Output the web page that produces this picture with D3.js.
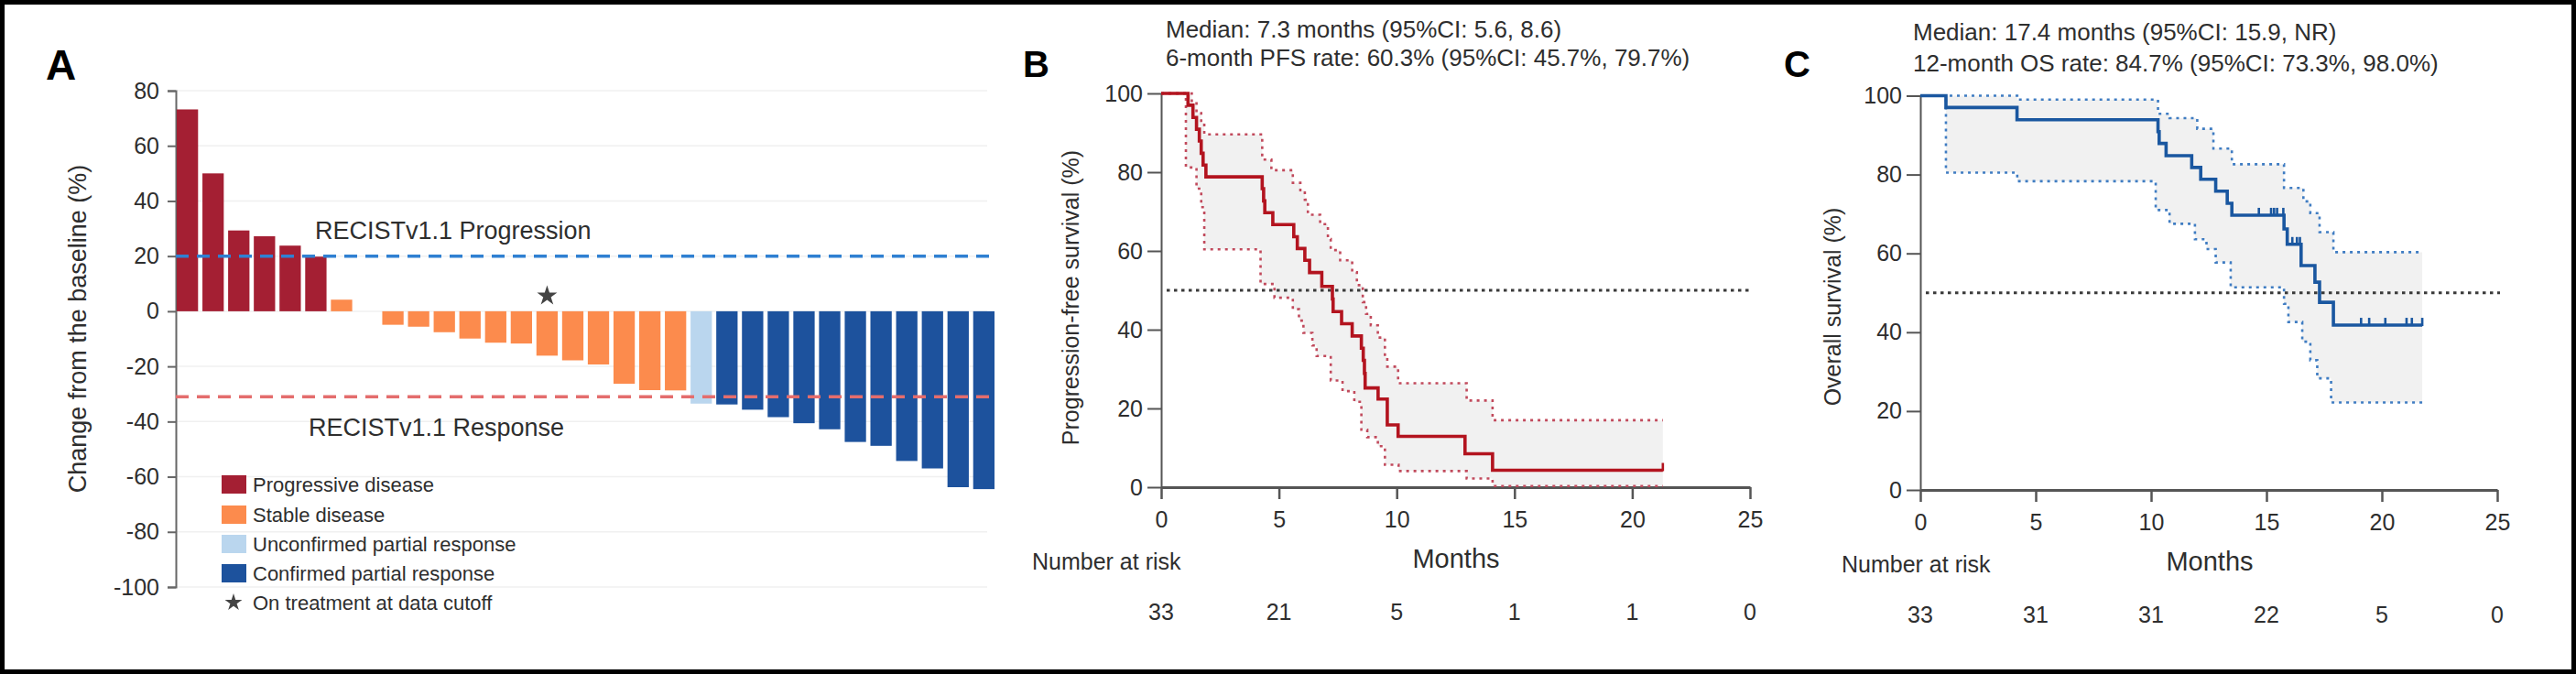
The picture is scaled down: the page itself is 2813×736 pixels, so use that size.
<!DOCTYPE html>
<html><head><meta charset="utf-8">
<script src="https://cdn.jsdelivr.net/npm/d3@7"></script>
<style>
body{margin:0;background:#fff}
svg{display:block}
text{font-family:"Liberation Sans",Arial,Helvetica,sans-serif;fill:#2e2e2e}
</style>
</head><body>
<svg id="chart" width="2813" height="736"></svg>
<script>
// ---------------- DATA ----------------
// Panel A: waterfall (best % change from baseline per patient)
const waterfallValues = [73.2, 50.0, 29.3, 27.2, 23.8, 19.8, 4.2, 0, -4.9, -5.6, -7.6, -9.9, -11.4, -11.7, -16.1, -17.8, -19.3, -26.3, -28.6, -28.7, -33.5, -33.8, -35.7, -38.4, -40.6, -42.8, -47.4, -48.8, -54.3, -57.0, -63.8, -64.5];
const waterfallResponse = ["PD","PD","PD","PD","PD","PD","SD","SD","SD","SD","SD","SD","SD","SD","SD","SD","SD","SD","SD","SD","uPR","cPR","cPR","cPR","cPR","cPR","cPR","cPR","cPR","cPR","cPR","cPR"];
const onTreatmentIdx = [14];
const responseKeys = ["PD","SD","uPR","cPR"];
const responseLabels = ["Progressive disease","Stable disease","Unconfirmed partial response","Confirmed partial response"];
const responseColors = ["#a41f33","#fc8b4d","#bad6ee","#1d529d"];
const waterfallTicks = [80,60,40,20,0,-20,-40,-60,-80,-100];
const progressionThreshold = 20;
const responseThreshold = -31;

// Panel B: PFS Kaplan-Meier
const pfsT  = [0,1.14,1.35,1.5,1.62,1.7,1.78,1.9,4.29,4.35,4.4,4.74,5.63,5.78,6.1,6.3,6.82,7.27,7.3,7.66,8.11,8.5,8.58,8.63,8.66,9.21,9.6,10.06,12.9,14.07];
const pfsS  = [100,97.0,93.9,90.9,87.9,84.8,81.8,78.8,75.8,72.7,69.7,66.7,63.6,60.6,57.6,54.5,51.0,47.8,44.6,41.5,38.4,35.3,32.2,28.9,25.2,22.4,15.8,12.9,8.5,4.3];
const pfsUpT = [0,1.3,1.5,1.7,1.83,4.29,4.68,5.59,5.91,6.1,6.23,6.75,7.08,7.2,7.6,8.11,8.31,8.56,8.7,8.9,9.2,9.5,9.6,10.06,12.97,14.07];
const pfsUpV = [100,97.5,95,92.5,89.6,83.2,80.5,77.3,75.4,73,69.2,66.8,63,60.2,57.6,54.6,51.3,47,44,41.1,38,33,30.6,26.4,22,17];
const pfsLoT = [0,1.05,1.5,1.7,1.83,4.22,4.81,5.59,5.85,6.04,6.42,6.6,7.2,7.7,8.2,8.5,8.75,9.2,9.5,10.08,12.97,14.07];
const pfsLoV = [100,81.2,75.8,71.1,60.4,51.6,48.1,45.2,42.3,39.2,36,33.3,27.1,24.4,21.7,14.6,12.7,10.4,5.7,4.1,2.2,0.3];
const pfsEnd = 21.3;
const pfsCensorT = [21.3];
const pfsRisk = [33,21,5,1,1,0];
const pfsHeader = ["Median: 7.3 months (95%CI: 5.6, 8.6)","6-month PFS rate: 60.3% (95%CI: 45.7%, 79.7%)"];

// Panel C: OS Kaplan-Meier
const osT  = [0,1.11,4.19,10.3,10.35,10.65,11.76,12.15,12.8,13.3,13.5,15.76,15.9,16.5,17.1,17.3,17.9];
const osS  = [100,97.0,93.9,90.9,87.9,84.8,81.8,78.8,75.8,72.7,69.7,66.2,62.3,56.9,52.7,47.6,41.8];
const osUpT = [0,4.2,10.3,10.8,12.0,12.7,13.5,15.76,16.6,16.9,17.3,17.9];
const osUpV = [100,99,95.4,94.3,91.6,86.6,82.6,76.6,73.2,70.2,65.4,60.3];
const osLoT = [0,1.11,4.2,10.2,10.8,11.9,12.4,12.8,13.45,15.76,15.95,16.55,16.9,17.2,17.8];
const osLoV = [100,80.5,78.3,71.0,67.5,63.6,61.1,57.7,51.4,47.2,42.6,37.6,32.9,28.3,22.2];
const osEnd = 21.75;
const osCensorT = [14.67,15.2,15.33,15.46,15.73,16.12,16.32,16.45,19.1,19.45,20.15,21.07,21.3,21.75];
const osRisk = [33,31,31,22,5,0];
const osHeader = ["Median: 17.4 months (95%CI: 15.9, NR)","12-month OS rate: 84.7% (95%CI: 73.3%, 98.0%)"];

const kmXTicks = [0,5,10,15,20,25];
const kmYTicks = [0,20,40,60,80,100];

// ---------------- DRAW ----------------
const svg = d3.select("#chart");
svg.append("rect").attr("x",0).attr("y",0).attr("width",2813).attr("height",736).attr("fill","#fff");
const plainFmt = d => String(d);

// ===== Panel A =====
const yA = d3.scaleLinear().domain([-100,80]).range([641,99]);
const xA = d3.scaleBand().domain(d3.range(waterfallValues.length)).range([193,1086]).paddingInner(0.17).paddingOuter(0);
const colorA = d3.scaleOrdinal().domain(responseKeys).range(responseColors);
const gA = svg.append("g");

gA.selectAll("line.grid").data(waterfallTicks).join("line")
  .attr("x1",193).attr("x2",1078).attr("y1",d=>yA(d)).attr("y2",d=>yA(d))
  .attr("stroke","#f0f0f0").attr("stroke-width",1.5);

const axA = gA.append("g").attr("transform","translate(192,0)")
  .call(d3.axisLeft(yA).tickValues(waterfallTicks).tickFormat(plainFmt).tickSize(9).tickSizeOuter(9).tickPadding(9));
axA.selectAll("path,line").attr("stroke","#666").attr("stroke-width",2);
axA.selectAll("text").attr("font-size",25).style("fill","#2e2e2e").attr("font-family","Liberation Sans, Arial, sans-serif");

gA.selectAll("rect.bar").data(waterfallValues).join("rect")
  .attr("x",(d,i)=>xA(i)).attr("width",xA.bandwidth())
  .attr("y",d=>yA(Math.max(0,d))).attr("height",d=>Math.abs(yA(d)-yA(0)))
  .attr("fill",(d,i)=>colorA(waterfallResponse[i]));

gA.selectAll("path.star").data(onTreatmentIdx).join("path")
  .attr("d",d3.symbol(d3.symbolStar,150)())
  .attr("transform",d=>`translate(${xA(d)+xA.bandwidth()/2},${yA(5.6)})`)
  .attr("fill","#444");

gA.append("line").attr("x1",192).attr("x2",1086).attr("y1",yA(progressionThreshold)).attr("y2",yA(progressionThreshold))
  .attr("stroke","#2f80d2").attr("stroke-width",3.5).attr("stroke-dasharray","14,9");
gA.append("line").attr("x1",192).attr("x2",1086).attr("y1",yA(responseThreshold)).attr("y2",yA(responseThreshold))
  .attr("stroke","#e46d6d").attr("stroke-width",3.5).attr("stroke-dasharray","14,9");

gA.append("text").attr("x",344).attr("y",261).attr("font-size",27).text("RECISTv1.1 Progression");
gA.append("text").attr("x",337).attr("y",476).attr("font-size",27).text("RECISTv1.1 Response");

gA.append("text").attr("transform","translate(94,359) rotate(-90)").attr("text-anchor","middle")
  .attr("font-size",27).text("Change from the baseline (%)");

const legRowY = [529,562,594,626];
responseKeys.forEach((k,i)=>{
  gA.append("rect").attr("x",242).attr("y",legRowY[i]-10).attr("width",27).attr("height",20).attr("fill",responseColors[i]);
  gA.append("text").attr("x",276).attr("y",legRowY[i]+8).attr("font-size",22).text(responseLabels[i]);
});
gA.append("path").attr("d",d3.symbol(d3.symbolStar,110)()).attr("transform","translate(255,658)").attr("fill","#444");
gA.append("text").attr("x",276).attr("y",666).attr("font-size",22).text("On treatment at data cutoff");

svg.append("text").attr("x",50).attr("y",87).attr("font-size",46).attr("font-weight","bold").style("fill","#000").text("A");

// ===== KM panels =====
function stepAt(T,V,t){let v=V[0];for(let i=0;i<T.length;i++){if(T[i]<=t)v=V[i];else break;}return v;}

function drawKM(o){
  const x = d3.scaleLinear().domain([0,25]).range(o.xr);
  const y = d3.scaleLinear().domain([0,100]).range(o.yr);
  const g = svg.append("g");
  const times = Array.from(new Set([0,...o.upT,...o.loT,o.end])).sort((a,b)=>a-b);
  const area = d3.area().x(d=>x(d)).y0(d=>y(stepAt(o.loT,o.loV,d))).y1(d=>y(stepAt(o.upT,o.upV,d))).curve(d3.curveStepAfter);
  g.append("path").attr("d",area(times)).attr("fill","#f1f1f1");

  g.append("line").attr("x1",o.xr[0]+6).attr("x2",x(25)+3).attr("y1",y(50)).attr("y2",y(50))
    .attr("stroke","#3a3a3a").attr("stroke-width",3).attr("stroke-dasharray","3.5,4.5");

  const ax = g.append("g").attr("transform",`translate(${o.xr[0]},0)`)
    .call(d3.axisLeft(y).tickValues(kmYTicks).tickFormat(plainFmt).tickSize(15).tickSizeOuter(0).tickPadding(5));
  ax.select(".domain").attr("stroke","#555").attr("stroke-width",2);
  ax.selectAll(".tick line").attr("stroke","#555").attr("stroke-width",2);
  ax.selectAll("text").attr("font-size",25).style("fill","#2e2e2e").attr("font-family","Liberation Sans, Arial, sans-serif");

  const bx = g.append("g").attr("transform",`translate(0,${o.yr[0]})`)
    .call(d3.axisBottom(x).tickValues(kmXTicks).tickFormat(plainFmt).tickSize(13).tickSizeOuter(0).tickPadding(13));
  bx.select(".domain").attr("stroke","#555").attr("stroke-width",3);
  bx.selectAll(".tick line").attr("stroke","#555").attr("stroke-width",2.5);
  bx.selectAll("text").attr("font-size",25).style("fill","#2e2e2e").attr("font-family","Liberation Sans, Arial, sans-serif");

  const line = d3.line().x(d=>x(d[0])).y(d=>y(d[1])).curve(d3.curveStepAfter);
  const pts=(T,V,end)=>{const p=T.map((t,i)=>[t,V[i]]);p.push([end,V[V.length-1]]);return p;};
  g.append("path").attr("d",line(pts(o.upT,o.upV,o.end))).attr("fill","none")
    .attr("stroke",o.ciColor).attr("stroke-width",2.6).attr("stroke-dasharray","3,5");
  g.append("path").attr("d",line(pts(o.loT,o.loV,o.end))).attr("fill","none")
    .attr("stroke",o.ciColor).attr("stroke-width",2.6).attr("stroke-dasharray","3,5");
  g.append("path").attr("d",line(pts(o.T,o.S,o.end))).attr("fill","none")
    .attr("stroke",o.color).attr("stroke-width",3.6);
  g.selectAll("line.cens").data(o.censT).join("line")
    .attr("x1",d=>x(d)).attr("x2",d=>x(d)).attr("y1",d=>y(stepAt(o.T,o.S,d))+1).attr("y2",d=>y(stepAt(o.T,o.S,d))-8)
    .attr("stroke",o.color).attr("stroke-width",2.6);

  g.append("text").attr("x",o.headerX).attr("y",o.headerY[0]).attr("font-size",26).text(o.header[0]);
  g.append("text").attr("x",o.headerX).attr("y",o.headerY[1]).attr("font-size",26).text(o.header[1]);
  g.append("text").attr("transform",`translate(${o.titleX},${o.titleY}) rotate(-90)`).attr("text-anchor","middle")
    .attr("font-size",25).text(o.yTitle);
  g.append("text").attr("x",o.monthsX).attr("y",o.yr[0]+88).attr("text-anchor","middle").attr("font-size",29).text("Months");
  g.append("text").attr("x",o.riskLabelX).attr("y",o.yr[0]+90).attr("font-size",25).text("Number at risk");
  g.selectAll("text.risk").data(o.risk).join("text")
    .attr("x",(d,i)=>x(kmXTicks[i])).attr("y",o.yr[0]+145).attr("text-anchor","middle").attr("font-size",25).text(d=>d);
  svg.append("text").attr("x",o.letterX).attr("y",84).attr("font-size",40).attr("font-weight","bold")
    .attr("font-family","Lato, Liberation Sans, sans-serif").style("fill","#000").text(o.letter);
}

drawKM({xr:[1268,1911], yr:[532,102], T:pfsT, S:pfsS, upT:pfsUpT, upV:pfsUpV, loT:pfsLoT, loV:pfsLoV, end:pfsEnd,
  censT:pfsCensorT, color:"#b3141f", ciColor:"#c14a5c", risk:pfsRisk, header:pfsHeader, headerX:1273, headerY:[41,72],
  yTitle:"Progression-free survival (%)", titleX:1178, titleY:325, monthsX:1590, riskLabelX:1127, letter:"B", letterX:1117});

drawKM({xr:[2097,2727], yr:[535,104.5], T:osT, S:osS, upT:osUpT, upV:osUpV, loT:osLoT, loV:osLoV, end:osEnd,
  censT:osCensorT, color:"#1a57a0", ciColor:"#3f7cc2", risk:osRisk, header:osHeader, headerX:2089, headerY:[44,78],
  yTitle:"Overall survival (%)", titleX:2010, titleY:335, monthsX:2413, riskLabelX:2011, letter:"C", letterX:1948});

// frame
svg.append("rect").attr("x",2.5).attr("y",2.5).attr("width",2808).attr("height",731)
  .attr("fill","none").attr("stroke","#000").attr("stroke-width",5);
</script>
</body></html>
